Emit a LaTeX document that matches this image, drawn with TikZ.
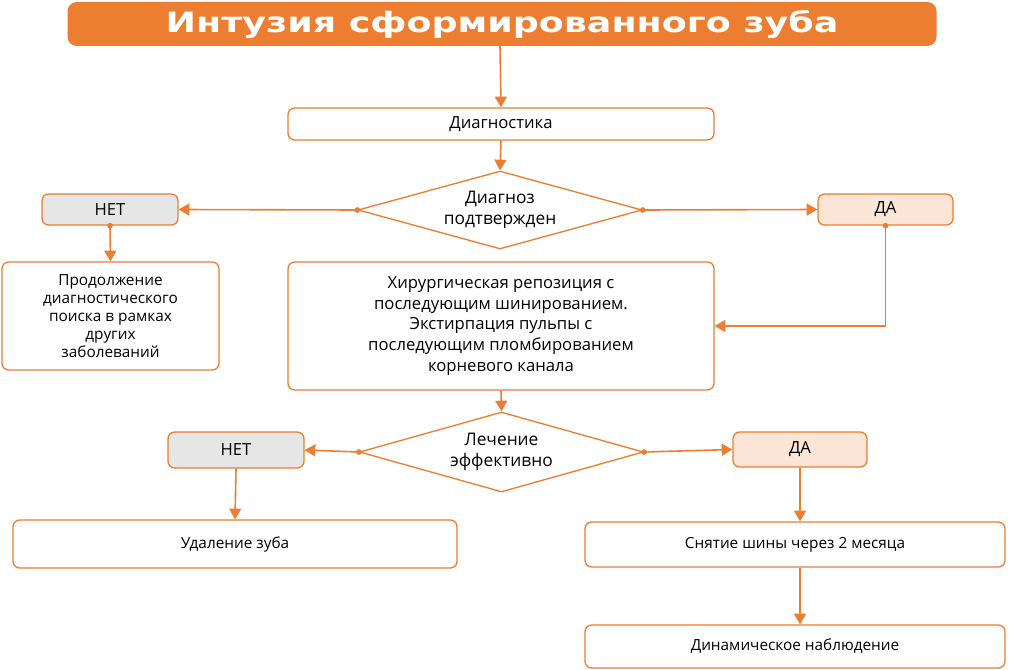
\documentclass[tikz,border=0pt]{standalone}
\usepackage{fontspec}
\setmainfont{Open Sans}
\newfontfamily\titlefont{DejaVu Sans}
\usetikzlibrary{shapes.geometric,arrows.meta}
\definecolor{org}{HTML}{ED7D31}
\definecolor{gry}{HTML}{E7E6E6}
\definecolor{lor}{HTML}{FBE5D6}
\begin{document}
\begin{tikzpicture}[x=0.75pt,y=-0.75pt,
  box/.style={draw=org,line width=1pt,rounded corners=5pt,fill=white,align=center,font=\fontsize{11.5}{13}\selectfont},
  dia/.style={draw=org,line width=1pt,diamond,aspect=3.5,fill=white,align=center,inner sep=0pt,font=\fontsize{13}{16}\selectfont},
  arr/.style={draw=org,line width=1.2pt,-{Triangle[length=8pt,width=9pt]}},
  dot/.style={circle,fill=org,inner sep=1.5pt}]
\useasboundingbox (0,0) rectangle (1016,670);
\node[fill=org,rounded corners=7pt,minimum width=869*0.75pt,minimum height=44*0.75pt,text=white,font=\titlefont\bfseries\fontsize{21}{22}\selectfont] (t) at (502,24) {\scalebox{1.3}[1]{Интузия сформированного зуба}};
\node[box,minimum width=426*0.75pt,minimum height=32*0.75pt,font=\fontsize{12.5}{14}\selectfont] (d) at (501,124) {Диагностика};
\draw[arr] (500,46) -- (d.north);
\node[dia,minimum width=284*0.75pt,minimum height=78*0.75pt] (q1) at (500,210) {Диагноз\\подтвержден};
\draw[arr] (d.south) -- (q1.north);
\node[box,fill=gry,minimum width=136*0.75pt,minimum height=31*0.75pt,font=\fontsize{12.5}{14}\selectfont] (n1) at (110,209.5) {НЕТ};
\node[box,fill=lor,minimum width=135*0.75pt,minimum height=31*0.75pt,font=\fontsize{12.5}{14}\selectfont] (y1) at (885.5,209.5) {ДА};
\node[dot] at (q1.west) {}; \node[dot] at (q1.east) {};
\draw[arr] (q1.west) -- (n1.east);
\draw[arr] (q1.east) -- (y1.west);
\node[box,minimum width=217*0.75pt,minimum height=108*0.75pt,font=\fontsize{11.5}{13.5}\selectfont] (b1) at (110.5,316) {Продолжение\\диагностического\\поиска в рамках\\других\\заболеваний};
\node[dot] at (n1.south) {};
\draw[arr] (n1.south) -- (b1.north);
\node[box,minimum width=426*0.75pt,minimum height=128*0.75pt,font=\fontsize{12.5}{15.5}\selectfont] (m) at (501,326) {Хирургическая репозиция с\\последующим шинированием.\\Экстирпация пульпы с\\последующим пломбированием\\корневого канала};
\node[dot] at (y1.south) {};
\draw[arr] (y1.south) |- (m.east);
\node[dia,minimum width=284*0.75pt,minimum height=80*0.75pt] (q2) at (501.5,452) {Лечение\\эффективно};
\draw[arr] (m.south) -- (q2.north);
\node[box,fill=gry,minimum width=136*0.75pt,minimum height=36*0.75pt,font=\fontsize{12.5}{14}\selectfont] (n2) at (236,450) {НЕТ};
\node[box,fill=lor,minimum width=134*0.75pt,minimum height=35*0.75pt,font=\fontsize{12.5}{14}\selectfont] (y2) at (800,449.5) {ДА};
\node[dot] at (q2.west) {}; \node[dot] at (q2.east) {};
\draw[arr] (q2.west) -- (n2.east);
\draw[arr] (q2.east) -- (y2.west);
\node[box,minimum width=444*0.75pt,minimum height=48*0.75pt] (r1) at (235,544) {Удаление зуба};
\draw[arr] (n2.south) -- (r1.north);
\node[box,minimum width=420*0.75pt,minimum height=45*0.75pt] (r2) at (795,544.5) {Снятие шины через 2 месяца};
\draw[arr] (y2.south) -- (r2.north -| y2.south);
\node[box,minimum width=420*0.75pt,minimum height=43*0.75pt] (r3) at (795,646.5) {Динамическое наблюдение};
\draw[arr] (r2.south -| y2.south) -- (r3.north -| y2.south);
\end{tikzpicture}
\end{document}
